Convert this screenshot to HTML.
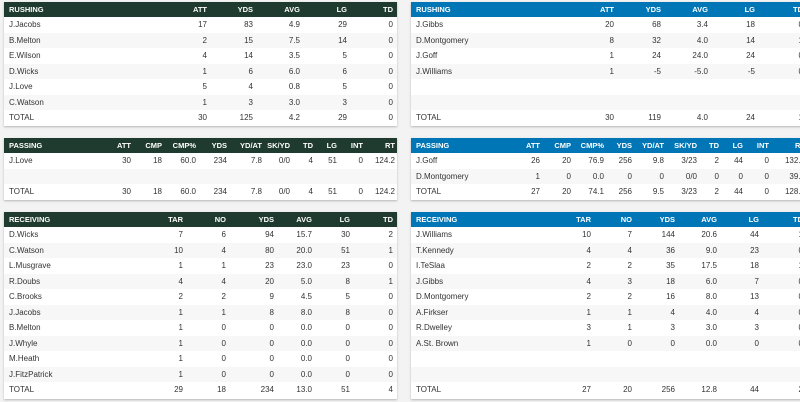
<!DOCTYPE html>
<html><head><meta charset="utf-8"><style>
*{margin:0;padding:0;box-sizing:border-box}
body{width:800px;height:402px;overflow:hidden;background:#f3f3f3;font-family:"Liberation Sans",Arial,sans-serif;position:relative}
.p{position:absolute;background:#fff;box-shadow:0 1px 2px rgba(0,0,0,.25);overflow:hidden}
table{border-collapse:collapse;table-layout:fixed}
th{height:15px;color:#fff;font-size:7.5px;font-weight:bold;text-align:right;padding:0 4px 0 0;white-space:nowrap}
th:first-child,td:first-child{text-align:left;padding-left:5px}
td{height:15.5px;font-size:8px;color:#333;text-align:right;padding:0 4px 0 0;white-space:nowrap}
tr:nth-child(odd) td{background:#f7f7f7}
.g th{background:#1f3a2f}
.b th{background:#0076b6}
</style></head><body>

<div class="p g" style="left:4px;top:2px;width:393px;height:124px">
<table style="width:393px"><col style="width:167px"><col style="width:40px"><col style="width:46px"><col style="width:47px"><col style="width:47px"><col style="width:46px">
<tr><th>RUSHING</th><th>ATT</th><th>YDS</th><th>AVG</th><th>LG</th><th>TD</th></tr>
<tr><td>J.Jacobs</td><td>17</td><td>83</td><td>4.9</td><td>29</td><td>0</td></tr>
<tr><td>B.Melton</td><td>2</td><td>15</td><td>7.5</td><td>14</td><td>0</td></tr>
<tr><td>E.Wilson</td><td>4</td><td>14</td><td>3.5</td><td>5</td><td>0</td></tr>
<tr><td>D.Wicks</td><td>1</td><td>6</td><td>6.0</td><td>6</td><td>0</td></tr>
<tr><td>J.Love</td><td>5</td><td>4</td><td>0.8</td><td>5</td><td>0</td></tr>
<tr><td>C.Watson</td><td>1</td><td>3</td><td>3.0</td><td>3</td><td>0</td></tr>
<tr><td>TOTAL</td><td>30</td><td>125</td><td>4.2</td><td>29</td><td>0</td></tr>
</table></div>

<div class="p b" style="left:411px;top:2px;width:400px;height:124px">
<table style="width:400px"><col style="width:167px"><col style="width:40px"><col style="width:47px"><col style="width:47px"><col style="width:47px"><col style="width:52px">
<tr><th>RUSHING</th><th>ATT</th><th>YDS</th><th>AVG</th><th>LG</th><th style="padding-right:8px">TD</th></tr>
<tr><td>J.Gibbs</td><td>20</td><td>68</td><td>3.4</td><td>18</td><td style="padding-right:8px">0</td></tr>
<tr><td>D.Montgomery</td><td>8</td><td>32</td><td>4.0</td><td>14</td><td style="padding-right:8px">1</td></tr>
<tr><td>J.Goff</td><td>1</td><td>24</td><td>24.0</td><td>24</td><td style="padding-right:8px">0</td></tr>
<tr><td>J.Williams</td><td>1</td><td>-5</td><td>-5.0</td><td>-5</td><td style="padding-right:8px">0</td></tr>
<tr><td>&nbsp;</td><td></td><td></td><td></td><td></td><td></td></tr>
<tr><td>&nbsp;</td><td></td><td></td><td></td><td></td><td></td></tr>
<tr><td>TOTAL</td><td>30</td><td>119</td><td>4.0</td><td>24</td><td style="padding-right:8px">1</td></tr>
</table></div>

<div class="p g" style="left:4px;top:138px;width:393px;height:62px">
<table style="width:393px"><col style="width:101px"><col style="width:30px"><col style="width:31px"><col style="width:34px"><col style="width:31px"><col style="width:35px"><col style="width:28px"><col style="width:23px"><col style="width:24px"><col style="width:26px"><col style="width:30px">
<tr><th>PASSING</th><th>ATT</th><th>CMP</th><th>CMP%</th><th>YDS</th><th>YD/AT</th><th>SK/YD</th><th>TD</th><th>LG</th><th>INT</th><th style="padding-right:2px">RT</th></tr>
<tr><td>J.Love</td><td>30</td><td>18</td><td>60.0</td><td>234</td><td>7.8</td><td>0/0</td><td>4</td><td>51</td><td>0</td><td style="padding-right:2px">124.2</td></tr>
<tr><td>&nbsp;</td><td></td><td></td><td></td><td></td><td></td><td></td><td></td><td></td><td></td><td></td></tr>
<tr><td>TOTAL</td><td>30</td><td>18</td><td>60.0</td><td>234</td><td>7.8</td><td>0/0</td><td>4</td><td>51</td><td>0</td><td style="padding-right:2px">124.2</td></tr>
</table></div>

<div class="p b" style="left:411px;top:138px;width:400px;height:62px">
<table style="width:400px"><col style="width:103px"><col style="width:30px"><col style="width:31px"><col style="width:33px"><col style="width:28px"><col style="width:32px"><col style="width:33px"><col style="width:22px"><col style="width:24px"><col style="width:26px"><col style="width:38px">
<tr><th>PASSING</th><th>ATT</th><th>CMP</th><th>CMP%</th><th>YDS</th><th>YD/AT</th><th>SK/YD</th><th>TD</th><th>LG</th><th>INT</th><th style="padding-right:6px">RT</th></tr>
<tr><td>J.Goff</td><td>26</td><td>20</td><td>76.9</td><td>256</td><td>9.8</td><td>3/23</td><td>2</td><td>44</td><td>0</td><td style="padding-right:6px">132.9</td></tr>
<tr><td>D.Montgomery</td><td>1</td><td>0</td><td>0.0</td><td>0</td><td>0</td><td>0/0</td><td>0</td><td>0</td><td>0</td><td style="padding-right:6px">39.6</td></tr>
<tr><td>TOTAL</td><td>27</td><td>20</td><td>74.1</td><td>256</td><td>9.5</td><td>3/23</td><td>2</td><td>44</td><td>0</td><td style="padding-right:6px">128.0</td></tr>
</table></div>

<div class="p g" style="left:4px;top:212px;width:393px;height:187px">
<table style="width:393px"><col style="width:143px"><col style="width:40px"><col style="width:43px"><col style="width:48px"><col style="width:38px"><col style="width:38px"><col style="width:43px">
<tr><th>RECEIVING</th><th>TAR</th><th>NO</th><th>YDS</th><th>AVG</th><th>LG</th><th>TD</th></tr>
<tr><td>D.Wicks</td><td>7</td><td>6</td><td>94</td><td>15.7</td><td>30</td><td>2</td></tr>
<tr><td>C.Watson</td><td>10</td><td>4</td><td>80</td><td>20.0</td><td>51</td><td>1</td></tr>
<tr><td>L.Musgrave</td><td>1</td><td>1</td><td>23</td><td>23.0</td><td>23</td><td>0</td></tr>
<tr><td>R.Doubs</td><td>4</td><td>4</td><td>20</td><td>5.0</td><td>8</td><td>1</td></tr>
<tr><td>C.Brooks</td><td>2</td><td>2</td><td>9</td><td>4.5</td><td>5</td><td>0</td></tr>
<tr><td>J.Jacobs</td><td>1</td><td>1</td><td>8</td><td>8.0</td><td>8</td><td>0</td></tr>
<tr><td>B.Melton</td><td>1</td><td>0</td><td>0</td><td>0.0</td><td>0</td><td>0</td></tr>
<tr><td>J.Whyle</td><td>1</td><td>0</td><td>0</td><td>0.0</td><td>0</td><td>0</td></tr>
<tr><td>M.Heath</td><td>1</td><td>0</td><td>0</td><td>0.0</td><td>0</td><td>0</td></tr>
<tr><td>J.FitzPatrick</td><td>1</td><td>0</td><td>0</td><td>0.0</td><td>0</td><td>0</td></tr>
<tr><td>TOTAL</td><td>29</td><td>18</td><td>234</td><td>13.0</td><td>51</td><td>4</td></tr>
</table></div>

<div class="p b" style="left:411px;top:212px;width:400px;height:187px">
<table style="width:400px"><col style="width:144px"><col style="width:40px"><col style="width:41px"><col style="width:43px"><col style="width:42px"><col style="width:42px"><col style="width:48px">
<tr><th>RECEIVING</th><th>TAR</th><th>NO</th><th>YDS</th><th>AVG</th><th>LG</th><th style="padding-right:8px">TD</th></tr>
<tr><td>J.Williams</td><td>10</td><td>7</td><td>144</td><td>20.6</td><td>44</td><td style="padding-right:8px">1</td></tr>
<tr><td>T.Kennedy</td><td>4</td><td>4</td><td>36</td><td>9.0</td><td>23</td><td style="padding-right:8px">0</td></tr>
<tr><td>I.TeSlaa</td><td>2</td><td>2</td><td>35</td><td>17.5</td><td>18</td><td style="padding-right:8px">1</td></tr>
<tr><td>J.Gibbs</td><td>4</td><td>3</td><td>18</td><td>6.0</td><td>7</td><td style="padding-right:8px">0</td></tr>
<tr><td>D.Montgomery</td><td>2</td><td>2</td><td>16</td><td>8.0</td><td>13</td><td style="padding-right:8px">0</td></tr>
<tr><td>A.Firkser</td><td>1</td><td>1</td><td>4</td><td>4.0</td><td>4</td><td style="padding-right:8px">0</td></tr>
<tr><td>R.Dwelley</td><td>3</td><td>1</td><td>3</td><td>3.0</td><td>3</td><td style="padding-right:8px">0</td></tr>
<tr><td>A.St. Brown</td><td>1</td><td>0</td><td>0</td><td>0.0</td><td>0</td><td style="padding-right:8px">0</td></tr>
<tr><td>&nbsp;</td><td></td><td></td><td></td><td></td><td></td><td></td></tr>
<tr><td>&nbsp;</td><td></td><td></td><td></td><td></td><td></td><td></td></tr>
<tr><td>TOTAL</td><td>27</td><td>20</td><td>256</td><td>12.8</td><td>44</td><td style="padding-right:8px">2</td></tr>
</table></div>

</body></html>
